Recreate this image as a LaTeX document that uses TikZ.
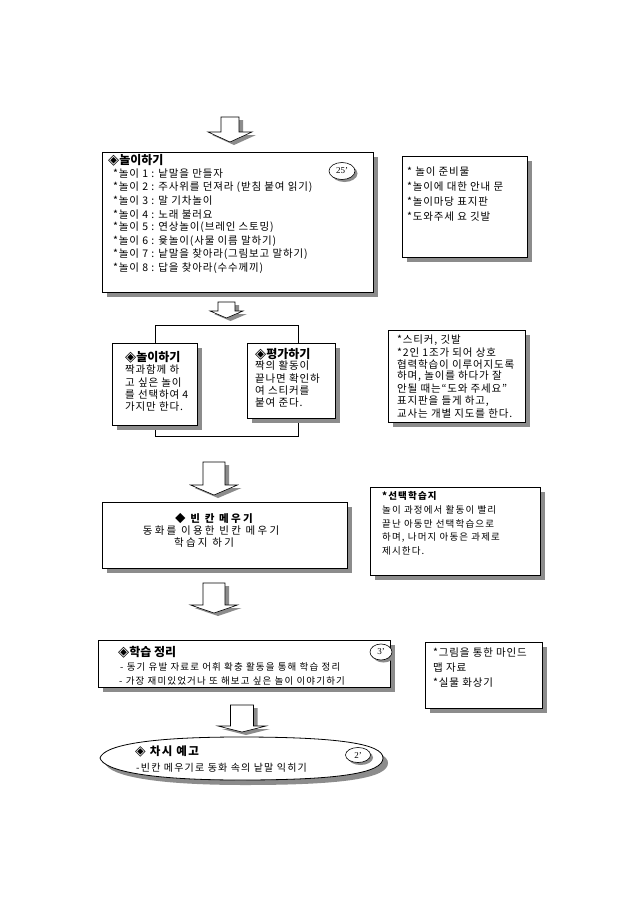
\documentclass[tikz,border=0pt]{standalone}
\usepackage{fontspec}
\setmainfont{Noto Sans CJK KR}
\newfontfamily\spcfont[LetterSpace=12]{Noto Sans CJK KR}
\newfontfamily\spcB[LetterSpace=8]{Noto Sans CJK KR}
\newfontfamily\spcW[LetterSpace=22]{Noto Sans CJK KR}
\newfontfamily\serfont{Liberation Serif}
\newfontfamily\symf[Scale=1.2]{DejaVu Sans}
\newcommand\dia{{\symf ◈}}
\usetikzlibrary{shadows,shapes.geometric}
\tikzset{
  box/.style={draw=black, line width=0.8pt, fill=white, rectangle, inner sep=0pt, anchor=north west,
     drop shadow={shadow xshift=5pt, shadow yshift=-5pt, fill=black!45, opacity=1}},
  txt/.style={anchor=west, inner sep=0pt, font=\spcB\fontsize{10.5}{12}\selectfont},
  stxt/.style={inner sep=0pt, font=\spcfont\fontsize{9.5}{11}\selectfont},
  wtxt/.style={inner sep=0pt, font=\spcW\fontsize{10.5}{12}\selectfont},
  ttl/.style={anchor=west, inner sep=0pt, font=\fontsize{12}{14}\selectfont\bfseries},
  tbadge/.style={ellipse, draw=black, line width=0.6pt, fill=white, inner sep=0pt,
     font=\serfont\fontsize{9}{10}\selectfont,
     drop shadow={shadow xshift=2.5pt, shadow yshift=-2.5pt, fill=black!45, opacity=1}},
  barrow/.style={draw=black, line width=0.6pt, fill=white},
  loopline/.style={draw=black, line width=0.8pt},
}
\newcommand\blockarrow[6]{%
  \fill[black!45] (#1-#3+4,#2+3) -- (#1+#3+4,#2+3) -- (#1+#3+4,#5+3) -- (#1+#4+4,#5+3) -- (#1+4,#6+3) -- (#1-#4+4,#5+3) -- (#1-#3+4,#5+3) -- cycle;
  \draw[barrow] (#1-#3,#2) -- (#1+#3,#2) -- (#1+#3,#5) -- (#1+#4,#5) -- (#1,#6) -- (#1-#4,#5) -- (#1-#3,#5) -- cycle;
}
\begin{document}
\begin{tikzpicture}[x=1pt,y=-1pt]
\useasboundingbox[fill=white] (0,0) rectangle (640,905);

% arrows
\blockarrow{230}{117}{9}{22}{132}{142}
\blockarrow{226.5}{302}{8.5}{16.5}{311}{318}
\blockarrow{214}{462}{11}{23.5}{485}{495}
\blockarrow{214}{583}{11}{23.5}{605}{613}
\blockarrow{242}{705}{11.5}{24}{726}{732}

% box 1
\node[box, minimum width=271pt, minimum height=140pt] (b1) at (102,152) {};
\node[ttl] (b1t) at (108,160) {\dia 놀이하기};
\foreach \t [count=\i] in {*놀이 1 : 낱말을 만들자, *놀이 2 : 주사위를 던져라 (받침 붙여 읽기), *놀이 3 : 말 기차놀이, *놀이 4 : 노래 불러요, *놀이 5 : 연상놀이(브레인 스토밍), *놀이 6 : 윷놀이(사물 이름 말하기), *놀이 7 : 낱말을 찾아라(그림보고 말하기), *놀이 8 : 답을 찾아라(수수께끼)}
  \node[txt] (b1l\i) at (113,{174+13.4*(\i-1)}) {\t};
\node[tbadge, minimum width=26pt, minimum height=17pt] (bg1) at (342,171) {25’};

% box 2
\node[box, minimum width=125pt, minimum height=101pt] (b2) at (402,156) {};
\foreach \t [count=\i] in {* 놀이 준비물, *놀이에 대한 안내 문, *놀이마당 표지판, *도와주세 요 깃발}
  \node[txt] (b2l\i) at (407,{172+15*(\i-1)}) {\t};

% loop
\draw[loopline] (155,325) rectangle (298,436);
\node[box, minimum width=85pt, minimum height=82pt] (b3l) at (112,343) {};
\node[ttl] (b3lt) at (125,357) {\dia 놀이하기};
\foreach \t [count=\i] in {짝과함께 하, 고 싶은 놀이, 를 선택하여 4, 가지만 한다.}
  \node[txt] (b3ll\i) at (125,{370+12.3*(\i-1)}) {\t};
\node[box, minimum width=88pt, minimum height=75pt] (b3r) at (247,343) {};
\node[ttl] (b3rt) at (255,354) {\dia 평가하기};
\foreach \t [count=\i] in {짝의 활동이, 끝나면 확인하, 여 스티커를, 붙여 준다.}
  \node[txt] (b3rl\i) at (255,{366+12.3*(\i-1)}) {\t};

% box 4
\node[box, minimum width=137pt, minimum height=92pt] (b4) at (388,330) {};
\foreach \t [count=\i] in {{*스티커, 깃발}, *2인 1조가 되어 상호, 협력학습이 이루어지도록, {하며, 놀이를 하다가 잘}, 안될 때는“도와 주세요”, {표지판을 들게 하고,}, 교사는 개별 지도를 한다.}
  \node[txt] (b4l\i) at (397,{340+12.2*(\i-1)}) {\t};

% box 5
\node[box, minimum width=245pt, minimum height=66pt] (b5) at (102,502) {};
\node[wtxt, font=\spcW\fontsize{10.5}{12}\selectfont\bfseries] (b5t) at (214,519) {◆ 빈 칸 메우기};
\node[wtxt] (b5l1) at (211,531) {동화를 이용한 빈칸 메우기};
\node[wtxt] (b5l2) at (204,543) {학습지 하기};

% box 6
\node[box, minimum width=170pt, minimum height=88pt] (b6) at (370,487) {};
\node[stxt, anchor=west, font=\spcfont\fontsize{9.5}{11}\selectfont\bfseries] (b6t) at (382,496) {*선택학습지};
\foreach \t [count=\i] in {놀이 과정에서 활동이 빨리, 끝난 아동만 선택학습으로, {하며, 나머지 아동은 과제로}, 제시한다.}
  \node[stxt, anchor=west] (b6l\i) at (382,{510+13.5*(\i-1)}) {\t};

% box 7
\node[box, minimum width=292pt, minimum height=47pt] (b7) at (98,640) {};
\node[ttl] (b7t) at (118,652) {\dia 학습 정리};
\node[stxt, anchor=west] (b7l1) at (120,667) {- 동기 유발 자료로 어휘 확충 활동을 통해 학습 정리};
\node[stxt, anchor=west] (b7l2) at (119,681) {- 가장 재미있었거나 또 해보고 싶은 놀이 이야기하기};
\node[tbadge, minimum width=22pt, minimum height=16pt] (bg2) at (381,652) {3’};

% box 8
\node[box, minimum width=117pt, minimum height=66pt] (b8) at (425,642) {};
\foreach \t [count=\i] in {*그림을 통한 마인드, 맵 자료, *실물 화상기}
  \node[txt] (b8l\i) at (433,{653+14.7*(\i-1)}) {\t};

% terminator
\path[draw=black, line width=0.8pt, fill=white,
  drop shadow={shadow xshift=5pt, shadow yshift=-5pt, fill=black!45, opacity=1}]
  (100,758) .. controls (104,745) and (150,737) .. (240,737)
  .. controls (340,737) and (383,744) .. (383,758)
  .. controls (383,773) and (340,780) .. (240,780)
  .. controls (150,780) and (104,771) .. (100,758) -- cycle;
\node[ttl, font=\spcfont\fontsize{11.5}{13}\selectfont\bfseries] (tt) at (135,751) {\dia\ 차시 예고};
\node[anchor=west, inner sep=0pt, font=\spcfont\fontsize{10}{12}\selectfont] (tl) at (136,768) {-빈칸 메우기로 동화 속의 낱말 익히기};
\node[tbadge, minimum width=25pt, minimum height=15pt] (bg3) at (358,755) {2’};
\end{tikzpicture}
\end{document}
